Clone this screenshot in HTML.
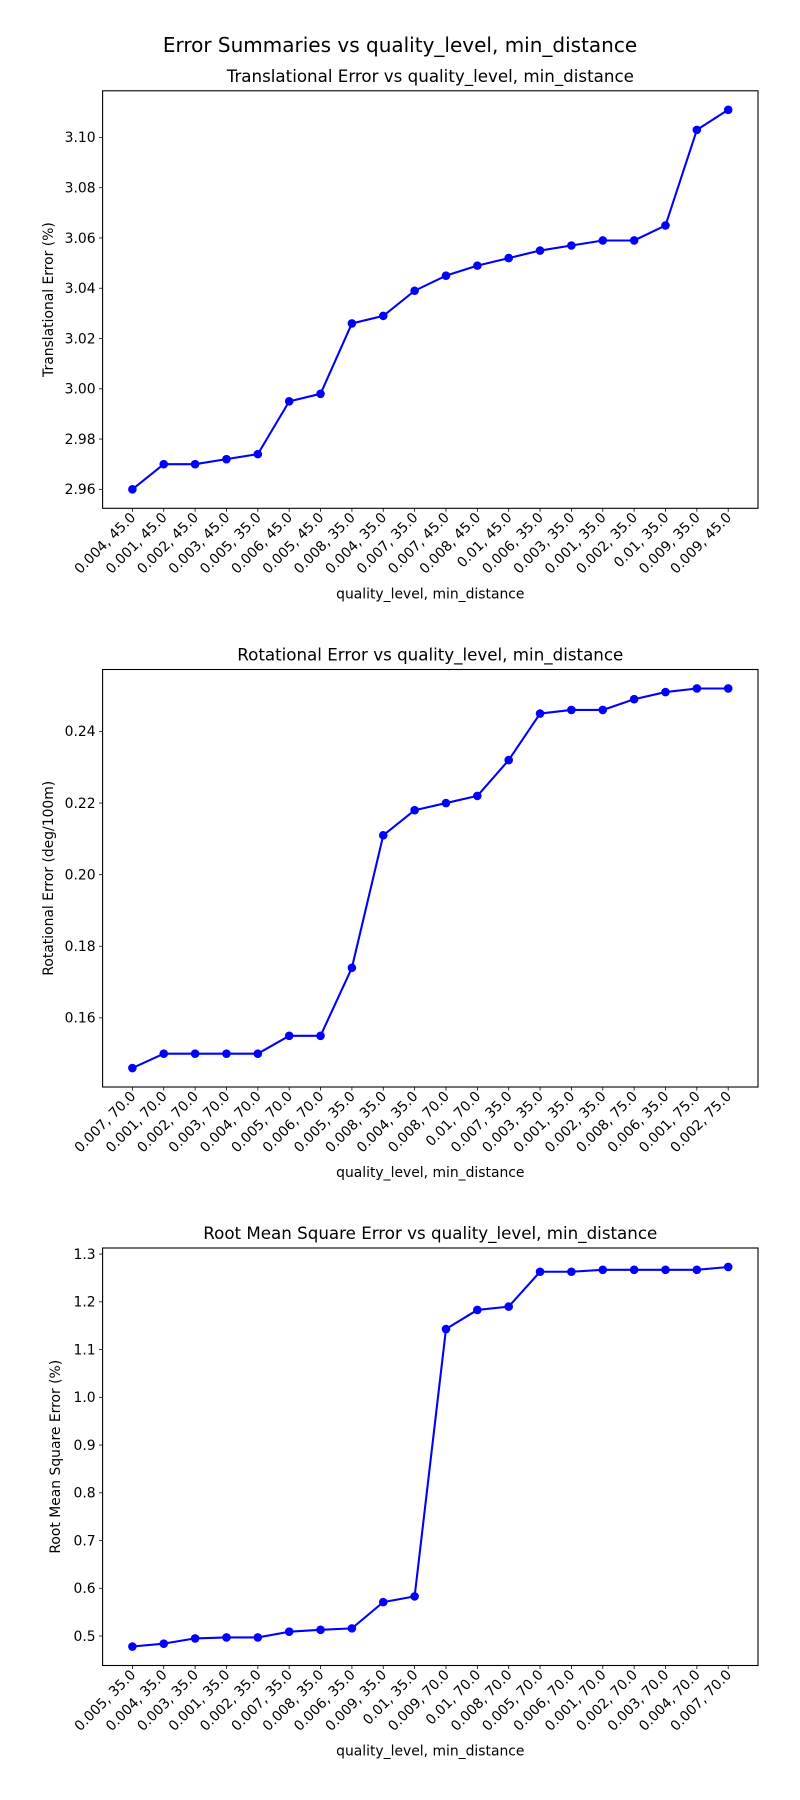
<!DOCTYPE html>
<html><head><meta charset="utf-8"><style>
html,body{margin:0;padding:0;background:#fff;}
svg{display:block;font-family:"DejaVu Sans","Liberation Sans",sans-serif;}
</style></head><body>
<svg id="fig" width="800" height="1800" xmlns="http://www.w3.org/2000/svg">
<text x="400" y="52" text-anchor="middle" font-size="20">Error Summaries vs quality_level, min_distance</text>
</svg>
<script>
const transCategories = ["0.004, 45.0","0.001, 45.0","0.002, 45.0","0.003, 45.0","0.005, 35.0","0.006, 45.0","0.005, 45.0","0.008, 35.0","0.004, 35.0","0.007, 35.0","0.007, 45.0","0.008, 45.0","0.01, 45.0","0.006, 35.0","0.003, 35.0","0.001, 35.0","0.002, 35.0","0.01, 35.0","0.009, 35.0","0.009, 45.0"];
const transValues = [2.960,2.970,2.970,2.972,2.974,2.995,2.998,3.026,3.029,3.039,3.045,3.049,3.052,3.055,3.057,3.059,3.059,3.065,3.103,3.111];
const transTicks = [2.96,2.98,3.00,3.02,3.04,3.06,3.08,3.10];
const transTickLabels = ["2.96","2.98","3.00","3.02","3.04","3.06","3.08","3.10"];

const rotCategories = ["0.007, 70.0","0.001, 70.0","0.002, 70.0","0.003, 70.0","0.004, 70.0","0.005, 70.0","0.006, 70.0","0.005, 35.0","0.008, 35.0","0.004, 35.0","0.008, 70.0","0.01, 70.0","0.007, 35.0","0.003, 35.0","0.001, 35.0","0.002, 35.0","0.008, 75.0","0.006, 35.0","0.001, 75.0","0.002, 75.0"];
const rotValues = [0.146,0.150,0.150,0.150,0.150,0.155,0.155,0.174,0.211,0.218,0.220,0.222,0.232,0.245,0.246,0.246,0.249,0.251,0.252,0.252];
const rotTicks = [0.16,0.18,0.20,0.22,0.24];
const rotTickLabels = ["0.16","0.18","0.20","0.22","0.24"];

const rmseCategories = ["0.005, 35.0","0.004, 35.0","0.003, 35.0","0.001, 35.0","0.002, 35.0","0.007, 35.0","0.008, 35.0","0.006, 35.0","0.009, 35.0","0.01, 35.0","0.009, 70.0","0.01, 70.0","0.008, 70.0","0.005, 70.0","0.006, 70.0","0.001, 70.0","0.002, 70.0","0.003, 70.0","0.004, 70.0","0.007, 70.0"];
const rmseValues = [0.478,0.484,0.495,0.497,0.497,0.509,0.513,0.516,0.571,0.583,1.143,1.183,1.190,1.263,1.263,1.267,1.267,1.267,1.267,1.273];
const rmseTicks = [0.5,0.6,0.7,0.8,0.9,1.0,1.1,1.2,1.3];
const rmseTickLabels = ["0.5","0.6","0.7","0.8","0.9","1.0","1.1","1.2","1.3"];

const NS = "http://www.w3.org/2000/svg";
const svg = document.getElementById("fig");
function mk(tag, attrs, parent){
  const e = document.createElementNS(NS, tag);
  for (const k in attrs) e.setAttribute(k, attrs[k]);
  (parent||svg).appendChild(e);
  return e;
}
function drawPanel(key, top, title, ylabel, ylabelX, cats, vals, ticks, tickLabels){
  const L = 102.6, R = 758, T = top, B = top + 417.5;
  const g = mk("g", {});
  
  
  const n = cats.length;
  const xmin = -0.05*(n-1), xmax = (n-1)*1.05;
  const xs = i => L + (i - xmin)/(xmax - xmin)*(R - L);
  const lo = Math.min(...vals), hi = Math.max(...vals), pad = (hi-lo)*0.05;
  const ymin = lo - pad, ymax = hi + pad;
  const ys = v => B - (v - ymin)/(ymax - ymin)*(B - T);
  const tt = mk("text", {x:(L+R)/2, y:T-9, "text-anchor":"middle", "font-size":"16.7"}, g);
  tt.textContent = title;
  
  
  ticks.forEach((t,i)=>{
    const y = ys(t);
    const tl = mk("line", {x1:L-3.5, x2:L, y1:y, y2:y, stroke:"#000", "stroke-width":"0.8"}, g);
    
    
    const tx = mk("text", {x:L-7, y:y+4.8, "text-anchor":"end", "font-size":"13.9"}, g);
    tx.textContent = tickLabels[i];
    
    
  });
  cats.forEach((c,i)=>{
    const x = xs(i);
    const tl = mk("line", {x1:x, x2:x, y1:B, y2:B+3.5, stroke:"#000", "stroke-width":"0.8"}, g);
    
    
    const tx = mk("text", {x:0, y:0, "text-anchor":"end", "font-size":"13.9", transform:`translate(${x+4},${B+10}) rotate(-45)`}, g);
    tx.textContent = c;
    
    
  });
  const pts = vals.map((v,i)=>xs(i).toFixed(2)+","+ys(v).toFixed(2)).join(" ");
  const pl = mk("polyline", {points:pts, fill:"none", stroke:"#0000ff", "stroke-width":"2.08", "stroke-linejoin":"round"}, g);
  
  
  vals.forEach((v,i)=>{
    const c = mk("circle", {cx:xs(i), cy:ys(v), r:4.3, fill:"#0000ff"}, g);
    
    
  });
  const fr = mk("rect", {x:L, y:T, width:R-L, height:B-T, fill:"none", stroke:"#000", "stroke-width":"1.1"}, g);
  
  
  const xl = mk("text", {x:(L+R)/2, y:B+90, "text-anchor":"middle", "font-size":"13.9"}, g);
  xl.textContent = "quality_level, min_distance";
  
  
  const yl = mk("text", {x:0, y:0, "text-anchor":"middle", "font-size":"13.9", transform:`translate(${ylabelX},${(T+B)/2}) rotate(-90)`}, g);
  yl.textContent = ylabel;
  
  
}
drawPanel("translational", 90.8, "Translational Error vs quality_level, min_distance", "Translational Error (%)", 53, transCategories, transValues, transTicks, transTickLabels);
drawPanel("rotational", 669.5, "Rotational Error vs quality_level, min_distance", "Rotational Error (deg/100m)", 53, rotCategories, rotValues, rotTicks, rotTickLabels);
drawPanel("rmse", 1248, "Root Mean Square Error vs quality_level, min_distance", "Root Mean Square Error (%)", 60, rmseCategories, rmseValues, rmseTicks, rmseTickLabels);
</script>
</body></html>
